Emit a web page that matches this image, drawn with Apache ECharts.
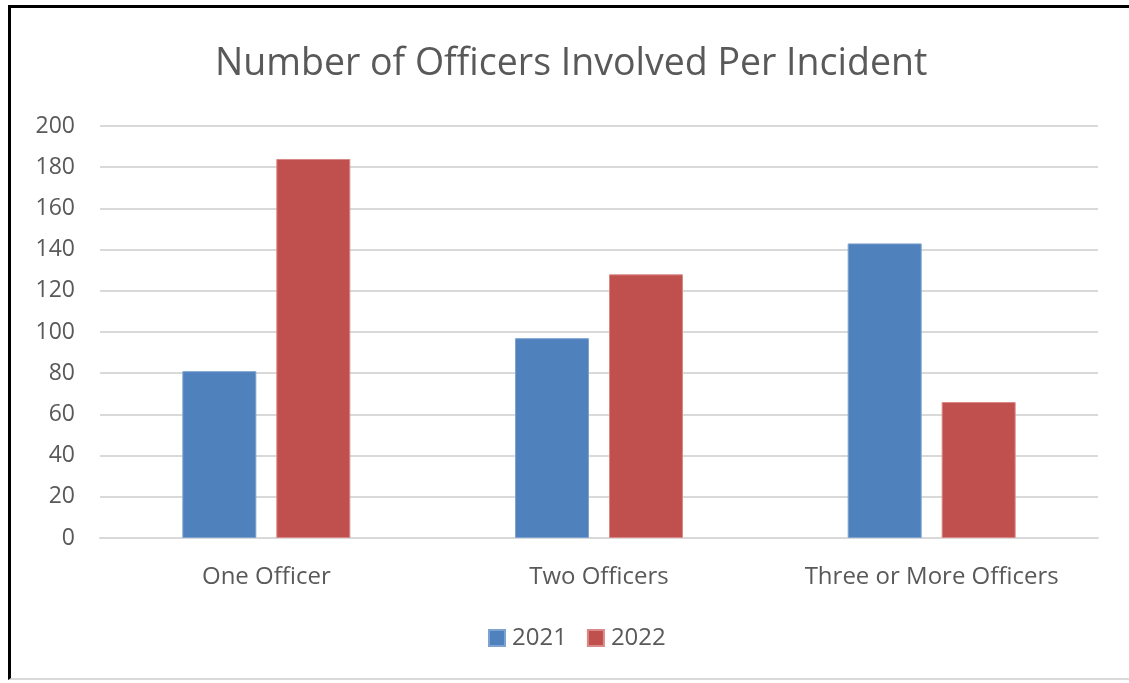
<!DOCTYPE html>
<html>
<head>
<meta charset="utf-8">
<script src="https://cdn.jsdelivr.net/npm/echarts@6/dist/echarts.min.js"></script>
<style>
  html, body { margin: 0; padding: 0; background: #fff; }
  #frame {
    position: absolute; left: 8px; top: 5px; width: 1121px; height: 675px;
    border-left: 3px solid #000; border-top: 3px solid #000;
    border-bottom: 2px solid #d9d9d9; box-sizing: border-box;
  }
  #chart { position: absolute; left: 0; top: 0; width: 1129px; height: 683px; }
</style>
</head>
<body>
<div id="frame"></div>
<div id="chart"></div>
<script>
const categories = ["One Officer", "Two Officers", "Three or More Officers"];
const years = ["2021", "2022"];
const values2021 = [81, 97, 143];
const values2022 = [184, 128, 66];

let myChart = echarts.init(document.getElementById("chart"));
let textColor = "#595959";
let options = {
  animation: false,
  title: {
    text: "Number of Officers Involved Per Incident",
    left: 210,
    top: 40,
    textStyle: {
      fontFamily: "Open Sans",
      fontSize: 37.5,
      fontWeight: "normal",
      color: textColor,
    },
  },
  legend: {
    data: years,
    top: 621,
    left: 483,
    itemWidth: 16,
    itemHeight: 16,
    itemGap: 20,
    icon: "rect",
    textStyle: { fontFamily: "Open Sans", fontSize: 24, color: textColor, padding: [0, 0, 0, 2] },
  },
  grid: { left: 100, right: 31, top: 126, bottom: 145 },
  xAxis: {
    type: "category",
    data: categories,
    axisTick: { show: false },
    axisLine: { lineStyle: { color: "#d9d9d9", width: 2 } },
    axisLabel: {
      fontFamily: "Open Sans",
      fontSize: 24,
      color: textColor,
      margin: 27,
    },
  },
  yAxis: {
    type: "value",
    min: 0,
    max: 200,
    interval: 20,
    axisLine: { show: false },
    axisTick: { show: false },
    splitLine: { lineStyle: { color: "#d9d9d9", width: 2 } },
    axisLabel: {
      fontFamily: "Open Sans",
      fontSize: 23,
      color: textColor,
      margin: 25,
    },
  },
  series: [
    {
      name: years[0],
      type: "bar",
      data: values2021,
      barWidth: 74,
      barGap: "27%",
      itemStyle: { color: "#4f81bd", borderColor: "#7fa3d0", borderWidth: 1 },
    },
    {
      name: years[1],
      type: "bar",
      data: values2022,
      barWidth: 74,
      itemStyle: { color: "#c0504d", borderColor: "#d98a88", borderWidth: 1 },
    },
  ],
};
myChart.setOption(options);
</script>
</body>
</html>
